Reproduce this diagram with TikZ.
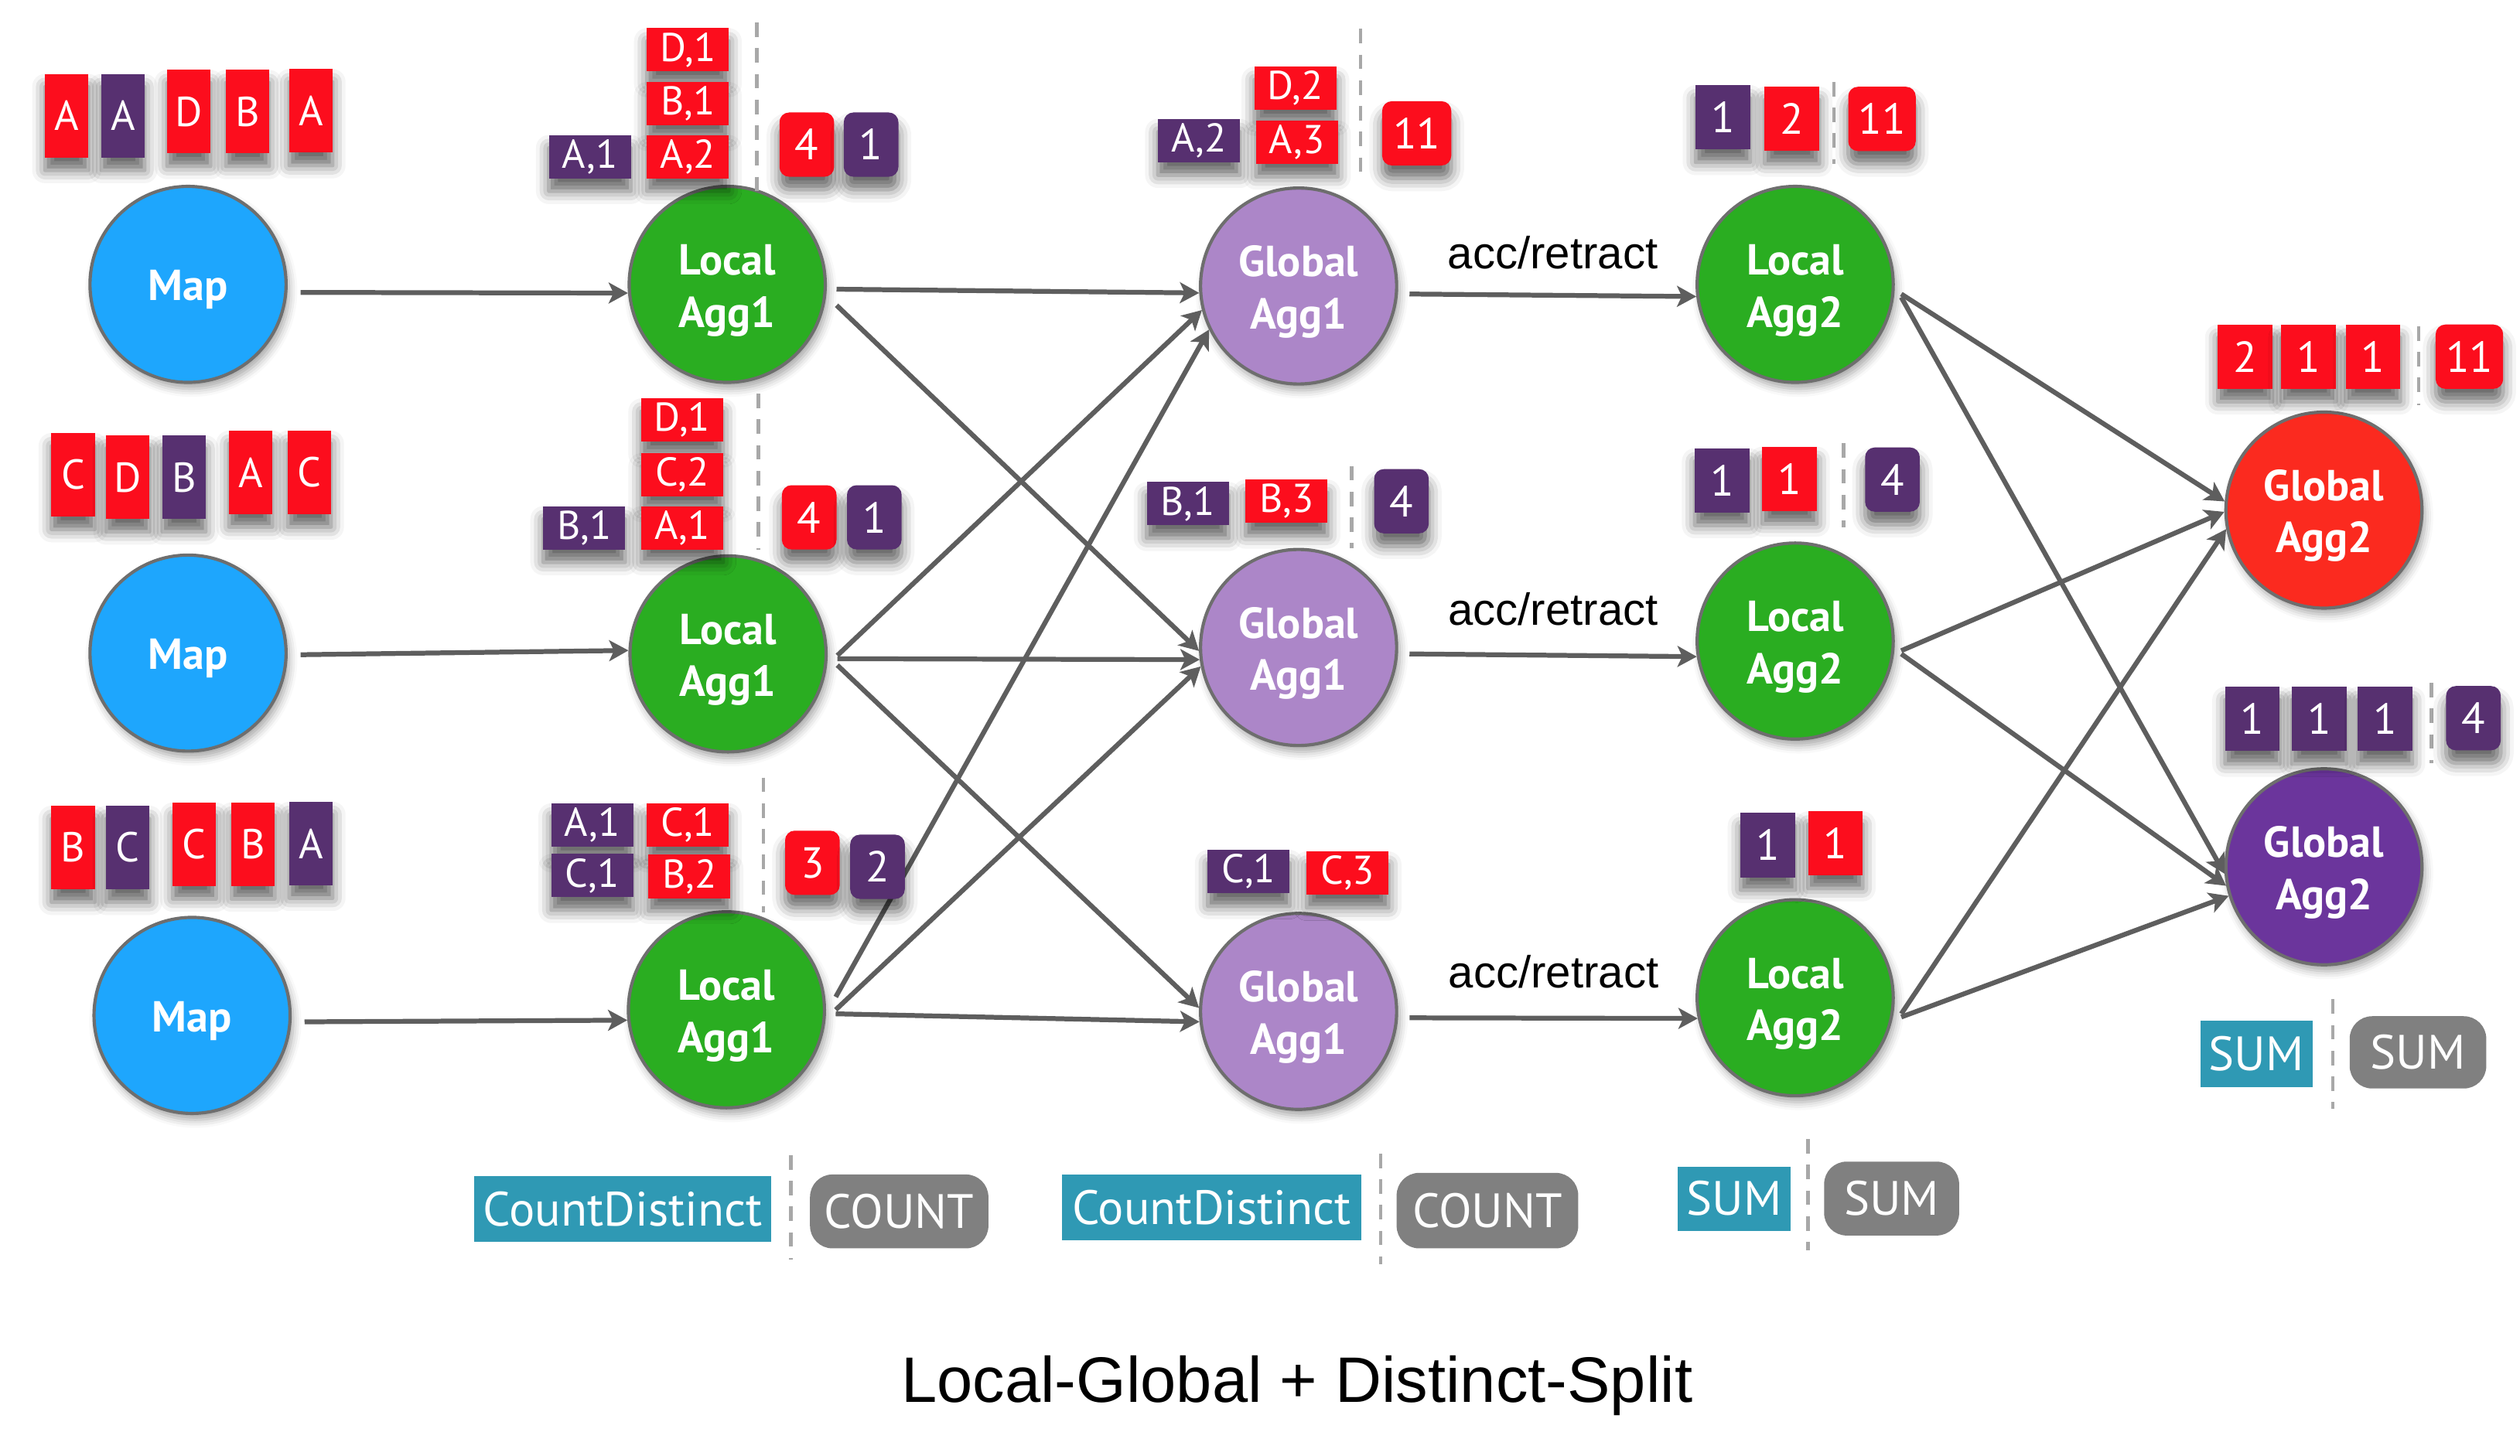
\documentclass[tikz,border=0pt]{standalone}
\usepackage{fontspec}
\setmainfont{PT Sans}
\newfontfamily\helv{Liberation Sans}
\usetikzlibrary{arrows.meta,shadows.blur,calc}
\definecolor{cred}{HTML}{FC0D1D}
\definecolor{cpurple}{HTML}{573070}
\definecolor{cteal}{HTML}{2F99B4}
\definecolor{cgray}{HTML}{808080}
\definecolor{dashgray}{HTML}{A8A8A8}
\definecolor{arrowgray}{HTML}{5E5E5E}
\definecolor{cborder}{HTML}{6E6E6E}
\definecolor{mapblue}{HTML}{1EA6FD}
\definecolor{lgreen}{HTML}{2AAD21}
\definecolor{lavender}{HTML}{AC86C8}
\definecolor{gred}{HTML}{FB2A1F}
\definecolor{gpurple}{HTML}{6B359C}
\newcommand\twol[2]{\rule{0pt}{26.5pt}#1\\#2}
\newcommand\onel[1]{\rule{0pt}{25.5pt}#1}
\tikzset{
 circ/.style={circle, minimum size=122pt, inner sep=0pt, draw=cborder, line width=2pt, text=white, align=center,
   font=\bfseries\fontsize{27}{32.4}\selectfont,
   blur shadow={shadow xshift=2pt, shadow yshift=-4pt, shadow blur radius=5pt, shadow opacity=35}},
 bx/.style={rectangle, inner sep=0pt, text=white, font=\fontsize{25}{25}\selectfont,
   blur shadow={shadow xshift=0pt, shadow yshift=-8pt, shadow blur radius=8pt, shadow opacity=60}},
 tall/.style={bx, minimum width=27pt, minimum height=52pt, font=\fontsize{26}{26}\selectfont},
 pair/.style={bx, minimum width=51pt, minimum height=27pt},
 nbox/.style={bx, minimum width=34pt, minimum height=40pt, font=\fontsize{27}{27}\selectfont},
 rnbox/.style={nbox, rounded corners=6pt},
 redf/.style={fill=cred}, purf/.style={fill=cpurple},
 dsh/.style={draw=dashgray, line width=2.2pt, dash pattern=on 9pt off 7pt},
 arr/.style={draw=arrowgray, line width=3pt, -{Stealth[length=12pt,width=13pt,inset=3pt]}},
 fnt/.style={inner sep=0pt, text=white, font=\fontsize{30}{30}\selectfont, fill=cteal},
 fng/.style={inner sep=0pt, text=white, font=\fontsize{30}{30}\selectfont, fill=cgray, rounded corners=14pt},
 lbl/.style={font=\helv\fontsize{28}{28}\selectfont, anchor=base, inner sep=0pt},
}
\begin{document}
\begin{tikzpicture}[x=1pt,y=-1pt]
\useasboundingbox (0,0) rectangle (1568,906);
% ---------- circles ----------
\node[circ, fill=mapblue] (m1) at (117,177) {\onel{Map}};
\node[circ, fill=mapblue] (m2) at (117,406.5) {\onel{Map}};
\node[circ, fill=mapblue] (m3) at (119.5,632) {\onel{Map}};
\node[circ, fill=lgreen] (l1) at (452.5,177) {\twol{Local}{Agg1}};
\node[circ, fill=lgreen] (l2) at (453,407) {\twol{Local}{Agg1}};
\node[circ, fill=lgreen] (l3) at (452,628.5) {\twol{Local}{Agg1}};
\node[circ, fill=lavender] (g1) at (808,178) {\twol{Global}{Agg1}};
\node[circ, fill=lavender] (g2) at (808,403) {\twol{Global}{Agg1}};
\node[circ, fill=lavender] (g3) at (808,629.5) {\twol{Global}{Agg1}};
\node[circ, fill=lgreen] (a1) at (1117,177) {\twol{Local}{Agg2}};
\node[circ, fill=lgreen] (a2) at (1117,399) {\twol{Local}{Agg2}};
\node[circ, fill=lgreen] (a3) at (1117,621) {\twol{Local}{Agg2}};
\node[circ, fill=gred] (gr) at (1446,317.5) {\twol{Global}{Agg2}};
\node[circ, fill=gpurple] (gp) at (1446,539.5) {\twol{Global}{Agg2}};
% ---------- arrows ----------
\draw[arr] ($(m1.east)+(8,5)$) -- (l1.185);
\draw[arr] ($(m2.east)+(8,1)$) -- (l2.178);
\draw[arr] ($(m3.east)+(8,4)$) -- (l3.186);
\draw[arr] ($(l1.east)+(6,3)$) -- (g1.184);
\draw[arr] ($(l1.east)+(6,13)$) -- (g2.182);
\draw[arr] ($(l2.east)+(6,1)$) -- (g1.194);
\draw[arr] ($(l2.east)+(6,3)$) -- (g2.187);
\draw[arr] ($(l2.east)+(6,7)$) -- (g3.178);
\draw[arr] ($(l3.east)+(6,-8)$) -- (g1.206);
\draw[arr] ($(l3.east)+(6,0)$) -- (g2.191);
\draw[arr] ($(l3.east)+(6,2.5)$) -- (g3.186);
\draw[arr] ($(g1.east)+(7,5)$) -- (a1.187) node[lbl, midway, above=15pt] (t1) {acc/retract};
\draw[arr] ($(g2.east)+(7,4)$) -- (a2.189) node[lbl, midway, above=17pt] (t2) {acc/retract};
\draw[arr] ($(g3.east)+(7,4)$) -- (a3.192) node[lbl, midway, above=17pt] (t3) {acc/retract};
\draw[arr] ($(a1.east)+(4,6)$) -- (gr.175);
\draw[arr] ($(a1.east)+(4,8)$) -- (gp.184);
\draw[arr] ($(a2.east)+(4,6)$) -- (gr.181);
\draw[arr] ($(a2.east)+(4,8)$) -- (gp.191);
\draw[arr] ($(a3.east)+(4,10)$) -- (gr.191);
\draw[arr] ($(a3.east)+(4,12)$) -- (gp.197);
% ---------- input records ----------
\node[tall,redf] (i11) at (41.5,72) {A};
\node[tall,purf] (i12) at (76.5,72) {A};
\node[tall,redf] (i13) at (117.5,69.5) {D};
\node[tall,redf] (i14) at (154,69.5) {B};
\node[tall,redf] (i15) at (193.5,69) {A};
\node[tall,redf] (i21) at (45.5,295.5) {C};
\node[tall,redf] (i22) at (79.5,297) {D};
\node[tall,purf] (i23) at (114.5,297) {B};
\node[tall,redf] (i24) at (156,294) {A};
\node[tall,redf] (i25) at (192.5,294) {C};
\node[tall,redf] (i31) at (45.5,527.5) {B};
\node[tall,purf] (i32) at (79.5,527.5) {C};
\node[tall,redf] (i33) at (121,525.5) {C};
\node[tall,redf] (i34) at (157.5,525.5) {B};
\node[tall,purf] (i35) at (193.5,525) {A};
% ---------- Local Agg1 states ----------
\node[pair,redf] (p11) at (428,31) {D,1};
\node[pair,redf] (p12) at (428,64.5) {B,1};
\node[pair,redf] (p13) at (428,97.5) {A,2};
\node[pair,purf] (p14) at (367,97.5) {A,1};
\draw[dsh] (471,14) -- (471,120);
\node[rnbox,redf] (n11) at (502,90) {4};
\node[rnbox,purf] (n12) at (542,90) {1};
\node[pair,redf] (p21) at (424.5,261.5) {D,1};
\node[pair,redf] (p22) at (424.5,295.5) {C,2};
\node[pair,redf] (p23) at (424.5,328.5) {A,1};
\node[pair,purf] (p24) at (363.5,328.5) {B,1};
\draw[dsh] (472,245) -- (472,342);
\node[rnbox,redf] (n21) at (503.5,322) {4};
\node[rnbox,purf] (n22) at (544,322) {1};
\node[pair,purf] (p31) at (368.5,513.5) {A,1};
\node[pair,redf] (p32) at (428,513.5) {C,1};
\node[pair,purf] (p33) at (368.5,545) {C,1};
\node[pair,redf] (p34) at (429,545.5) {B,2};
\draw[dsh] (475,484) -- (475,568);
\node[rnbox,redf] (n31) at (505.5,537) {3};
\node[rnbox,purf] (n32) at (546,539.5) {2};
% ---------- Global Agg1 states ----------
\node[pair,redf] (q11) at (806,55) {D,2};
\node[pair,purf] (q12) at (746,87.5) {A,2};
\node[pair,redf] (q13) at (807,88.5) {A,3};
\draw[dsh] (846.6,18) -- (846.6,111);
\node[rnbox,redf,minimum width=43pt] (k1) at (881.5,83) {11};
\node[pair,purf] (q21) at (739,313.5) {B,1};
\node[pair,redf] (q22) at (800.5,312) {B,3};
\draw[dsh] (841,290) -- (841,341);
\node[rnbox,purf] (k2) at (872,312) {4};
\node[pair,purf] (q31) at (777,542.5) {C,1};
\node[pair,redf] (q32) at (838.5,543.5) {C,3};
% ---------- Local Agg2 states ----------
\node[nbox,purf] (r11) at (1072,73) {1};
\node[nbox,redf] (r12) at (1115,74) {2};
\draw[dsh] (1141,51) -- (1141,102);
\node[rnbox,redf,minimum width=42pt] (r13) at (1171,74) {11};
\node[nbox,purf] (r21) at (1071.5,299) {1};
\node[nbox,redf] (r22) at (1113.5,298) {1};
\draw[dsh] (1147,276) -- (1147,328);
\node[rnbox,purf] (r23) at (1177.5,298.5) {4};
\node[nbox,purf] (r31) at (1100,526) {1};
\node[nbox,redf] (r32) at (1142,525) {1};
% ---------- Global Agg2 states ----------
\node[nbox,redf] (s11) at (1397,222) {2};
\node[nbox,redf] (s12) at (1436.5,222) {1};
\node[nbox,redf] (s13) at (1476.5,222) {1};
\draw[dsh] (1505,203) -- (1505,252);
\node[rnbox,redf,minimum width=42pt] (s14) at (1536.5,222) {11};
\node[nbox,purf] (s21) at (1401.5,447.5) {1};
\node[nbox,purf] (s22) at (1443,447.5) {1};
\node[nbox,purf] (s23) at (1484,447.5) {1};
\draw[dsh] (1513,425) -- (1513,475);
\node[rnbox,purf] (s24) at (1539,447) {4};
% ---------- function labels ----------
\node[fnt, minimum width=185pt, minimum height=41pt] (f1) at (387.5,752.5) {CountDistinct};
\draw[dsh] (492,719) -- (492,784);
\node[fng, minimum width=111pt, minimum height=46pt] (f2) at (559.5,754) {COUNT};
\node[fnt, minimum width=186pt, minimum height=41pt] (f3) at (754,751.5) {CountDistinct};
\draw[dsh] (859,718) -- (859,787);
\node[fng, minimum width=113pt, minimum height=47pt] (f4) at (925.5,753.5) {COUNT};
\node[fnt, minimum width=70pt, minimum height=40pt] (f5) at (1079,746) {SUM};
\draw[dsh] (1125,709) -- (1125,778);
\node[fng, minimum width=84pt, minimum height=46pt] (f6) at (1177,746) {SUM};
\node[fnt, minimum width=70pt, minimum height=41pt] (f7) at (1404,656) {SUM};
\draw[dsh] (1451.5,622) -- (1451.5,690);
\node[fng, minimum width=85pt, minimum height=45pt] (f8) at (1504.5,655) {SUM};
% ---------- title ----------
\node[font=\helv\fontsize{40}{40}\selectfont, anchor=base, inner sep=0pt] (title) at (807,873) {Local-Global + Distinct-Split};
\end{tikzpicture}
\end{document}
